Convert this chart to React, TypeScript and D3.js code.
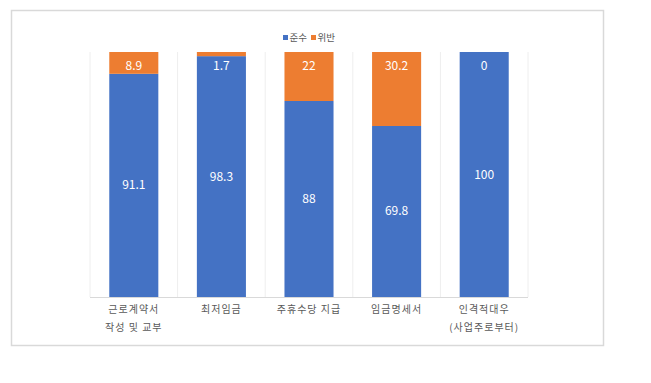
import React from "react";
import * as d3 from "d3";

const categories: string[][] = [
  ["근로계약서", "작성 및 교부"],
  ["최저임금"],
  ["주휴수당 지급"],
  ["임금명세서"],
  ["인격적대우", "(사업주로부터)"],
];
const comply: number[] = [91.1, 98.3, 88, 69.8, 100];
const violate: number[] = [8.9, 1.7, 22, 30.2, 0];
const seriesNames = ["준수", "위반"];
const colors = ["#4472C4", "#ED7D31"];

const W = 651;
const H = 383;
const font = "'Noto Sans CJK KR', 'Noto Sans', sans-serif";

export default function App() {
  const left = 90, right = 528, top = 52, bottom = 297;
  const x = d3
    .scaleBand<number>()
    .domain(categories.map((_, i) => i))
    .range([left, right])
    .paddingInner(0.44)
    .paddingOuter(0.22);
  const y = d3.scaleLinear().domain([0, 1]).range([bottom, top]);
  const step = x.step();

  // 100% stacked
  const stack = categories.map((_, i) => {
    const tot = comply[i] + violate[i];
    const a = comply[i] / tot;
    return [
      { v: comply[i], y0: 0, y1: a, s: 0 },
      { v: violate[i], y0: a, y1: 1, s: 1 },
    ];
  });

  return (
    <svg width={W} height={H} style={{ position: "absolute", left: 0, top: 0 }}>
      <rect x={0} y={0} width={W} height={H} fill="#fff" />
      <rect x={11.5} y={10.5} width={592} height={335} fill="#fff" stroke="#d9d9d9" strokeWidth={1.5} />
      {d3.range(categories.length + 1).map((k) => {
        const xx = left + k * step;
        return (
          <line key={"g" + k} x1={xx} x2={xx} y1={top} y2={bottom} stroke="#eeeeee" strokeWidth={1} />
        );
      })}
      <line x1={left} x2={right} y1={bottom + 0.5} y2={bottom + 0.5} stroke="#d9d9d9" strokeWidth={1} />
      {stack.map((segs, i) =>
        segs.map((d) => {
          const y0 = y(d.y0), y1 = y(d.y1);
          const cx = (x(i) as number) + x.bandwidth() / 2;
          return (
            <g key={i + "-" + d.s}>
              {y0 - y1 > 0 && (
                <rect x={x(i)} y={y1} width={x.bandwidth()} height={y0 - y1} fill={colors[d.s]} />
              )}
              <text
                x={cx}
                y={d.s === 1 ? top + 18 : (y0 + y1) / 2 + 4}
                textAnchor="middle"
                fill="#fff"
                fontSize={12}
                fontFamily={font}
              >
                {d.v}
              </text>
            </g>
          );
        })
      )}
      {categories.map((lines, i) =>
        lines.map((t, j) => (
          <text
            key={"c" + i + j}
            x={(x(i) as number) + x.bandwidth() / 2}
            y={313 + j * 18}
            textAnchor="middle"
            fill="#595959"
            fontSize={10}
            letterSpacing={1}
            fontFamily={font}
          >
            {t}
          </text>
        ))
      )}
      {seriesNames.map((n, k) => {
        const lx = 283 + k * 28;
        return (
          <g key={"l" + k}>
            <rect x={lx} y={35} width={5} height={5} fill={colors[k]} />
            <text x={lx + 6.5} y={41} fill="#595959" fontSize={9.5} fontFamily={font}>
              {n}
            </text>
          </g>
        );
      })}
    </svg>
  );
}
